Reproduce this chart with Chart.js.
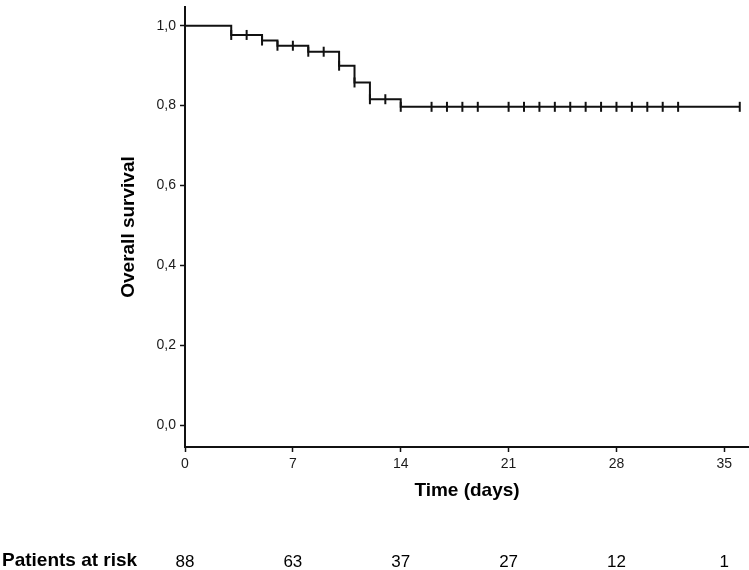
<!DOCTYPE html>
<html>
<head>
<meta charset="utf-8">
<script src="https://cdn.jsdelivr.net/npm/chart.js@4"></script>
<style>
  html, body { margin: 0; padding: 0; background: #fff; }
  #wrap { width: 749px; height: 570px; }
</style>
</head>
<body>
<div id="wrap"><canvas id="c" width="749" height="570"></canvas></div>
<script>
// ---- data ----
const stepTimes = [0, 3, 5, 6, 8, 10, 11, 12, 14, 36];
const survival  = [1.0, 0.977, 0.963, 0.950, 0.935, 0.900, 0.858, 0.816, 0.797, 0.797];
const censorTimes = [3, 4, 5, 6, 7, 8, 9, 10, 11, 12, 13, 14, 16, 17, 18, 19, 21, 22, 23, 24, 25, 26, 27, 28, 29, 30, 31, 32, 36];
const xTickValues = [0, 7, 14, 21, 28, 35];
const yTickValues = [0, 0.2, 0.4, 0.6, 0.8, 1.0];
const riskTimes  = [0, 7, 14, 21, 28, 35];
const riskCounts = [88, 63, 37, 27, 12, 1];
const riskLabel = 'Patients at risk';
const xTitle = 'Time (days)';
const yTitle = 'Overall survival';

function survivalAt(t) {
  let v = survival[0];
  for (let i = 0; i < stepTimes.length; i++) {
    if (stepTimes[i] <= t) v = survival[i];
  }
  return v;
}

const curvePoints = stepTimes.map((t, i) => ({ x: t, y: survival[i] }));
const censorPoints = censorTimes.map(t => ({ x: t, y: survivalAt(t) }));

const FONT = 'Arial, "Liberation Sans", Helvetica, sans-serif';

// let the x axis run to the right edge of the canvas, as in the reference
const stretchRightPlugin = {
  id: 'stretchRight',
  afterLayout(chart) {
    const xs = chart.scales.x;
    const extra = chart.width - chart.chartArea.right;
    if (extra > 0) {
      chart.chartArea.right += extra;
      chart.chartArea.width += extra;
      xs.right += extra;
      xs.width += extra;
      xs.configure();
    }
  }
};

const riskTablePlugin = {
  id: 'riskTable',
  afterDraw(chart) {
    const ctx = chart.ctx;
    const xs = chart.scales.x;
    ctx.save();
    ctx.fillStyle = '#000';
    ctx.textBaseline = 'alphabetic';
    ctx.font = 'bold 19px ' + FONT;
    ctx.textAlign = 'left';
    ctx.fillText(riskLabel, 2, 566);
    ctx.font = '17px ' + FONT;
    ctx.textAlign = 'center';
    riskTimes.forEach((t, i) => {
      ctx.fillText(String(riskCounts[i]), xs.getPixelForValue(t), 567);
    });
    ctx.restore();
  }
};

new Chart(document.getElementById('c'), {
  type: 'scatter',
  data: {
    datasets: [
      {
        data: curvePoints,
        showLine: true,
        stepped: true,
        borderColor: '#111',
        borderWidth: 2,
        pointRadius: 0,
        fill: false,
        clip: false
      },
      {
        data: censorPoints,
        showLine: false,
        pointStyle: 'line',
        rotation: 90,
        pointRadius: 5,
        pointBorderWidth: 2,
        borderColor: '#111',
        backgroundColor: '#111',
        clip: false
      }
    ]
  },
  options: {
    responsive: false,
    devicePixelRatio: 1,
    animation: false,
    layout: { padding: { left: 117, top: 4, right: 0, bottom: 68 } },
    plugins: {
      legend: { display: false },
      tooltip: { enabled: false }
    },
    scales: {
      x: {
        type: 'linear',
        min: 0,
        max: 36.6,
        afterBuildTicks(scale) { scale.ticks = xTickValues.map(v => ({ value: v })); },
        afterFit(scale) {
          scale.height = 55;
          scale.paddingLeft = 0; scale.paddingRight = 0;
        },
        ticks: {
          font: { size: 14, family: FONT },
          color: '#1a1a1a',
          padding: 4,
          maxRotation: 0,
          autoSkip: false,
          callback: v => String(v)
        },
        grid: { drawOnChartArea: false, drawTicks: true, tickLength: 5, tickColor: '#111', tickWidth: 1.5 },
        border: { display: true, color: '#111', width: 2 },
        title: {
          display: true,
          text: xTitle,
          font: { size: 19, weight: 'bold', family: FONT },
          color: '#000',
          padding: 0
        }
      },
      y: {
        type: 'linear',
        min: -0.055,
        max: 1.047,
        afterBuildTicks(scale) { scale.ticks = yTickValues.map(v => ({ value: v })); },
        afterFit(scale) {
          scale.width = 68;
          scale.paddingTop = 0; scale.paddingBottom = 0;
        },
        ticks: {
          font: { size: 14, family: FONT },
          color: '#1a1a1a',
          padding: 4,
          autoSkip: false,
          callback: v => Number(v).toFixed(1).replace('.', ',')
        },
        grid: { drawOnChartArea: false, drawTicks: true, tickLength: 5, tickColor: '#111', tickWidth: 1.5 },
        border: { display: true, color: '#111', width: 2 },
        title: {
          display: true,
          text: yTitle,
          font: { size: 19, weight: 'bold', family: FONT },
          color: '#000',
          padding: 0
        }
      }
    }
  },
  plugins: [stretchRightPlugin, riskTablePlugin]
});
</script>
</body>
</html>
